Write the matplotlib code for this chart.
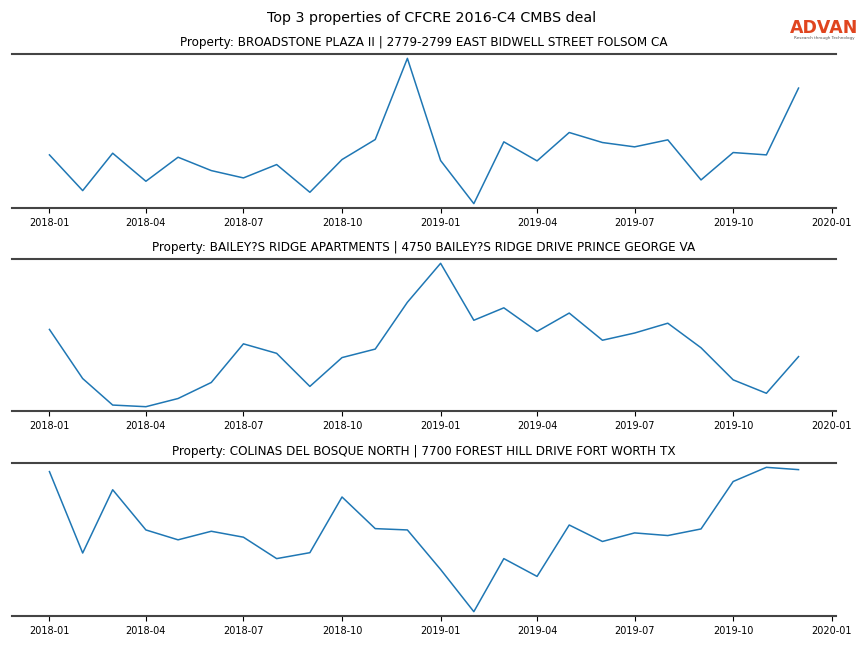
import matplotlib
matplotlib.use("Agg")
import matplotlib.pyplot as plt
import matplotlib.dates as mdates
import pandas as pd

months = pd.date_range("2018-01-01", "2019-12-01", freq="MS")

titles = [
    "Property: BROADSTONE PLAZA II | 2779-2799 EAST BIDWELL STREET FOLSOM CA",
    "Property: BAILEY?S RIDGE APARTMENTS | 4750 BAILEY?S RIDGE DRIVE PRINCE GEORGE VA",
    "Property: COLINAS DEL BOSQUE NORTH | 7700 FOREST HILL DRIVE FORT WORTH TX",
]

visits_1 = [157, 50, 162, 78, 150, 110, 88, 128, 45, 143, 203, 446,
            140, 11, 196, 139, 224, 194, 181, 202, 82, 164, 157, 357]
visits_2 = [242, 92, 11, 6, 31, 80, 198, 169, 68, 156, 182, 325,
            444, 270, 308, 236, 292, 209, 231, 261, 186, 88, 47, 159]
visits_3 = [435, 188, 380, 258, 228, 254, 236, 171, 189, 358, 262, 258,
            138, 10, 171, 117, 273, 223, 249, 241, 261, 405, 448, 441]
series = [visits_1, visits_2, visits_3]

fig = plt.figure(figsize=(8.64, 6.48), dpi=100)
fig.suptitle("Top 3 properties of CFCRE 2016-C4 CMBS deal", fontsize=10.3, y=0.983)

W, H = 864, 648
boxes = [(54, 208), (259, 411), (463, 616)]
left, right = 12, 836
for (top, bot), vals, title in zip(boxes, series, titles):
    ax = fig.add_axes([left / W, 1 - bot / H, (right - left) / W, (bot - top) / H])
    ax.plot(months, vals, color="#1f77b4", linewidth=1.1)
    ax.set_title(title, fontsize=8.65, pad=5.5)
    ax.margins(y=0.03)
    ax.set_yticks([])
    for s in ["left", "right"]:
        ax.spines[s].set_visible(False)
    for s in ["top", "bottom"]:
        ax.spines[s].set_color("#444444")
        ax.spines[s].set_linewidth(1.5)
    ax.xaxis.set_major_locator(mdates.MonthLocator(bymonth=[1, 4, 7, 10]))
    ax.xaxis.set_major_formatter(mdates.DateFormatter("%Y-%m"))
    ax.tick_params(axis="x", labelsize=7, length=3.5, width=0.8, colors="black")

fig.text(0.954, 0.957, "ADVAN", color="#e0451f", fontsize=12.5, ha="center", va="center",
         fontweight="bold", family="DejaVu Sans")
fig.text(0.954, 0.941, "Research through Technology", color="#555555", fontsize=3,
         ha="center", va="center")

fig.savefig("out.png", dpi=100)
